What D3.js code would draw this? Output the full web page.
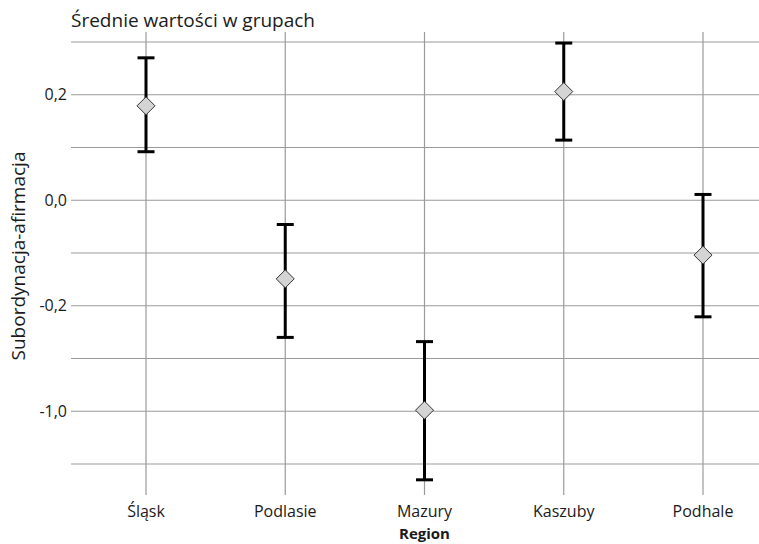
<!DOCTYPE html>
<html>
<head>
<meta charset="utf-8">
<script src="https://cdn.jsdelivr.net/npm/d3@7"></script>
<style>
  body { margin: 0; background: #fff; }
  text { font-family: "Open Sans", "Noto Sans", sans-serif; fill: #1a1a1a; }
</style>
</head>
<body>
<div id="chart"></div>
<script>
// data
var regions = ["Śląsk", "Podlasie", "Mazury", "Kaszuby", "Podhale"];
var means = [0.179, -0.149, -0.398, 0.206, -0.104];
var upper = [0.270, -0.046, -0.268, 0.298, 0.011];
var lower = [0.092, -0.260, -0.530, 0.114, -0.221];
var tickValues = [0.2, 0.0, -0.2, -0.4];
var tickLabels = ["0,2", "0,0", "-0,2", "-1,0"];
var gridValues = [0.3, 0.2, 0.1, 0.0, -0.1, -0.2, -0.3, -0.4, -0.5];

var width = 759, height = 544;
var plotLeft = 71, plotRight = 759;

var svg = d3.select("#chart").append("svg")
    .attr("width", width)
    .attr("height", height);

var x = d3.scalePoint().domain(regions).range([146, 703]);
var y = d3.scaleLinear().domain([-0.5, 0.3]).range([464, 42]);

// horizontal grid
svg.append("g").selectAll("line")
    .data(gridValues)
    .enter().append("line")
    .attr("x1", plotLeft).attr("x2", plotRight)
    .attr("y1", d => y(d)).attr("y2", d => y(d))
    .style("stroke", "#9a9a9a")
    .style("stroke-width", 1.2);

// vertical grid
svg.append("g").selectAll("line")
    .data(regions)
    .enter().append("line")
    .attr("x1", d => x(d)).attr("x2", d => x(d))
    .attr("y1", y(0.3) - 10).attr("y2", y(-0.5) + 31)
    .style("stroke", "#9a9a9a")
    .style("stroke-width", 1.2);

// y tick labels
svg.append("g").selectAll("text")
    .data(tickValues)
    .enter().append("text")
    .attr("x", 67)
    .attr("y", d => y(d))
    .attr("dy", "0.35em")
    .attr("text-anchor", "end")
    .style("font-size", "16px")
    .text((d, i) => tickLabels[i]);

// x tick labels
svg.append("g").selectAll("text")
    .data(regions)
    .enter().append("text")
    .attr("x", d => x(d))
    .attr("y", 517)
    .attr("text-anchor", "middle")
    .style("font-size", "16px")
    .text(d => d);

// error bars
var capW = 8.5;
var bars = svg.append("g");
regions.forEach(function(r, i) {
    var cx = x(r);
    bars.append("line")
        .attr("x1", cx).attr("x2", cx)
        .attr("y1", y(upper[i])).attr("y2", y(lower[i]))
        .style("stroke", "#000").style("stroke-width", 3);
    [upper[i], lower[i]].forEach(function(v) {
        bars.append("line")
            .attr("x1", cx - capW).attr("x2", cx + capW)
            .attr("y1", y(v)).attr("y2", y(v))
            .style("stroke", "#000").style("stroke-width", 3);
    });
});

// diamonds at the means
svg.append("g").selectAll("path")
    .data(regions)
    .enter().append("path")
    .attr("d", "M0,-9L9,0L0,9L-9,0Z")
    .attr("transform", (d, i) => "translate(" + x(d) + "," + y(means[i]) + ")")
    .style("fill", "#d4d4d4")
    .style("stroke", "#333")
    .style("stroke-width", 1);

// titles
svg.append("text")
    .attr("x", 71).attr("y", 27)
    .style("font-size", "19px")
    .text("Średnie wartości w grupach");

svg.append("text")
    .attr("transform", "translate(25," + 256 + ") rotate(-90)")
    .attr("text-anchor", "middle")
    .style("font-size", "19px")
    .text("Subordynacja-afirmacja");

svg.append("text")
    .attr("x", x("Mazury")).attr("y", 539)
    .attr("text-anchor", "middle")
    .style("font-size", "15px")
    .style("font-weight", "bold")
    .text("Region");
</script>
</body>
</html>
